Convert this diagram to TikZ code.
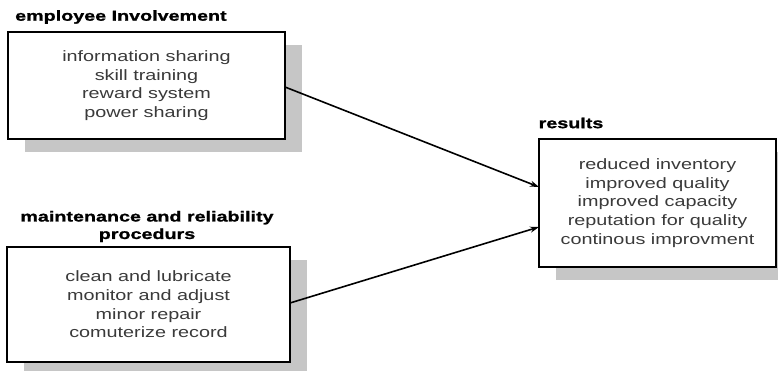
\documentclass[tikz,border=0pt]{standalone}
\usepackage{fontspec}
\setmainfont{Liberation Sans}
% wide sans faces for the box texts and the headings
\newfontfamily\bodyfont[FakeStretch=1.32]{Liberation Sans}
\newfontfamily\headfont[FakeStretch=1.36,FakeBold=1.2]{Liberation Sans}
\usetikzlibrary{arrows.meta,calc,backgrounds}

\definecolor{shadowgray}{HTML}{C6C6C6}
\definecolor{bodytext}{HTML}{3A3A3A}

\begin{document}
\begin{tikzpicture}[x=1pt,y=-1pt,
  box/.style={draw=black, line width=1.5pt, fill=white, outer sep=0pt,
    inner sep=0pt, align=center, text=bodytext,
    font=\bodyfont\fontsize{15}{18.7}\selectfont},
  heading/.style={inner sep=0pt, align=center, text=black,
    font=\headfont\bfseries\fontsize{14.5}{17.5}\selectfont},
  link/.style={line width=1.6pt, -{Stealth[length=9pt,width=6pt]}},
  boxshadow/.style={fill=shadowgray}
]
\useasboundingbox (0,0) rectangle (778,371);

% input boxes and result box
\node[box, minimum width=277pt, minimum height=107pt] (inv) at (146.5,85.5)
  {information sharing\\skill training\\reward system\\power sharing};
\node[box, minimum width=283pt, minimum height=115pt] (mnt) at (148.5,304.5)
  {clean and lubricate\\monitor and adjust\\minor repair\\comuterize record};
\node[box, minimum width=237pt, minimum height=128pt] (res) at (657.5,203)
  {reduced inventory\\improved quality\\improved capacity\\reputation for quality\\continous improvment};

% headings
\node[heading, anchor=west] (invh) at (15,17) {employee Involvement};
\node[heading] (mnth) at (147,226.5) {maintenance and reliability\\procedurs};
\node[heading] (resh) at (571,123) {results};

% drop shadows
\begin{scope}[on background layer]
  \foreach \b in {inv,mnt,res}
    \fill[boxshadow] ($(\b.north west)+(17,13)$) rectangle ($(\b.south east)+(17,13)$);
\end{scope}

% connectors
\coordinate (resin1) at ($(res.west)+(0,-16)$);
\coordinate (resin2) at ($(res.west)+(0,24)$);
\draw[link] ($(inv.east)+(0,1.5)$) -- (resin1);
\draw[link] ($(mnt.east)+(0,-1.5)$) -- (resin2);
\end{tikzpicture}
\end{document}
